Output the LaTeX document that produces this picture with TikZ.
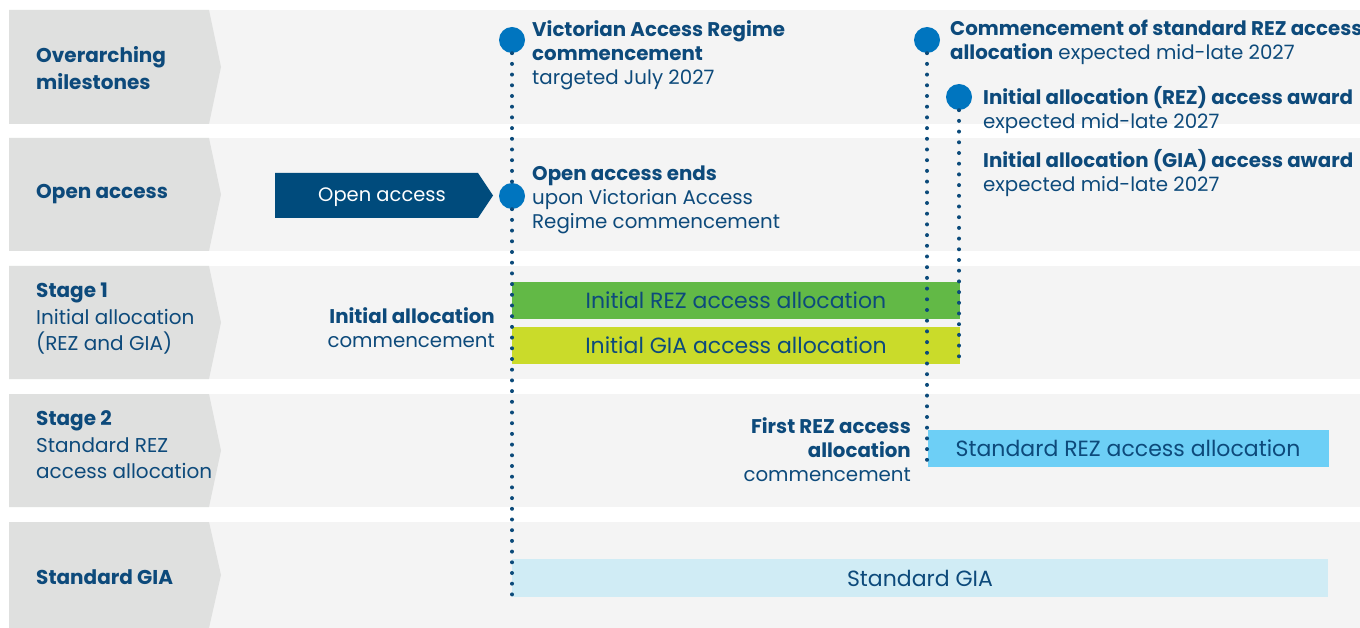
\documentclass[tikz,border=0pt]{standalone}
\usepackage{fontspec}
\setmainfont{Poppins}
\definecolor{txt}{HTML}{0D4A7B}
\definecolor{lab}{HTML}{DFE0DF}
\definecolor{band}{HTML}{F4F4F4}
\definecolor{navy}{HTML}{004B7C}
\definecolor{dot}{HTML}{0075BF}
\definecolor{dline}{HTML}{0B4A7A}
\definecolor{grn}{HTML}{62B946}
\definecolor{lime}{HTML}{CADB2A}
\definecolor{sky}{HTML}{6DCFF6}
\definecolor{pale}{HTML}{D0ECF5}
\tikzset{
  rowlab/.style={font=\fontsize{20}{26.5}\selectfont, text=txt, anchor=west, align=left, inner sep=0pt},
  mtext/.style={font=\fontsize{19.8}{24}\selectfont, text=txt, anchor=north west, align=left, inner sep=0pt},
  rtext/.style={font=\fontsize{19.8}{24}\selectfont, text=txt, anchor=north east, align=right, inner sep=0pt},
  bartext/.style={font=\fontsize{22}{24}\selectfont, text=txt},
  mdot/.style={circle, fill=dot, minimum size=26pt, inner sep=0pt},
  dotline/.style={draw=dline, line width=4pt, line cap=round, dash pattern=on 0pt off 10.7pt},
}
\begin{document}
\begin{tikzpicture}[x=1pt,y=-1pt]
\useasboundingbox (0,0) rectangle (1360,628);
\fill[white] (0,0) rectangle (1360,628);
% rows
\foreach \t/\b in {10/124,138/251,266/379,394/507,522/628}{
  \fill[band] (209,\t) rectangle (1360,\b);
  \fill[lab] (9,\t) -- (209,\t) -- (221,{(\t+\b)/2}) -- (209,\b) -- (9,\b) -- cycle;
}
\node[rowlab] (l1) at (36,68) {\textbf{Overarching}\\\textbf{milestones}};
\node[rowlab] (l2) at (36,194) {\textbf{Open access}};
\node[rowlab] (l3) at (36,319) {\textbf{Stage 1}\\Initial allocation\\(REZ and GIA)};
\node[rowlab] (l4) at (36,445) {\textbf{Stage 2}\\Standard REZ\\access allocation};
\node[rowlab] (l5) at (36,577) {\textbf{Standard GIA}};
% open access arrow
\fill[navy] (275,173) -- (478,173) -- (493,195.5) -- (478,218) -- (275,218) -- cycle;
\node[font=\fontsize{19.5}{22}\selectfont, text=white] (oa) at (382,197) {Open access};
% bars
\fill[grn] (512,282) rectangle (960,319);
\node[bartext] (b1) at (736,300.5) {Initial REZ access allocation};
\fill[lime] (512,327) rectangle (960,364);
\node[bartext] (b2) at (736,345.5) {Initial GIA access allocation};
\fill[sky] (928,430) rectangle (1329,467);
\node[bartext] (b3) at (1128,448.5) {Standard REZ access allocation};
\fill[pale] (512,559) rectangle (1328,597);
\node[bartext] (b4) at (920,578) {Standard GIA};
% milestone markers
\coordinate (e1) at (512,597);
\coordinate (e2) at (927,465);
\coordinate (e3) at (959,362);
\node[mdot] (m1) at (512,40) {};
\node[mdot] (m2) at (512,196) {};
\node[mdot] (m3) at (927,40) {};
\node[mdot] (m4) at (959,97) {};
\draw[dotline] (m1.south) -- (m2.north);
\draw[dotline] (m2.south) -- (e1);
\draw[dotline] (m3.south) -- (e2);
\draw[dotline] (m4.south) -- (e3);
% milestone texts
\node[mtext] (t1) at (532,20) {\textbf{Victorian Access Regime}\\\textbf{commencement}\\targeted July 2027};
\node[mtext] (t2) at (532,166) {\textbf{Open access ends}\\upon Victorian Access\\Regime commencement};
\node[mtext] (t3) at (950,20) {\textbf{Commencement of standard REZ access}\\\textbf{allocation} expected mid-late 2027};
\node[mtext] (t4) at (983,86) {\textbf{Initial allocation (REZ) access award}\\expected mid-late 2027};
\node[mtext] (t5) at (983,149) {\textbf{Initial allocation (GIA) access award}\\expected mid-late 2027};
\node[rtext] (t6) at (495,307) {\textbf{Initial allocation}\\commencement};
\node[rtext] (t7) at (911,417) {\textbf{First REZ access}\\\textbf{allocation}\\commencement};
\end{tikzpicture}
\end{document}
